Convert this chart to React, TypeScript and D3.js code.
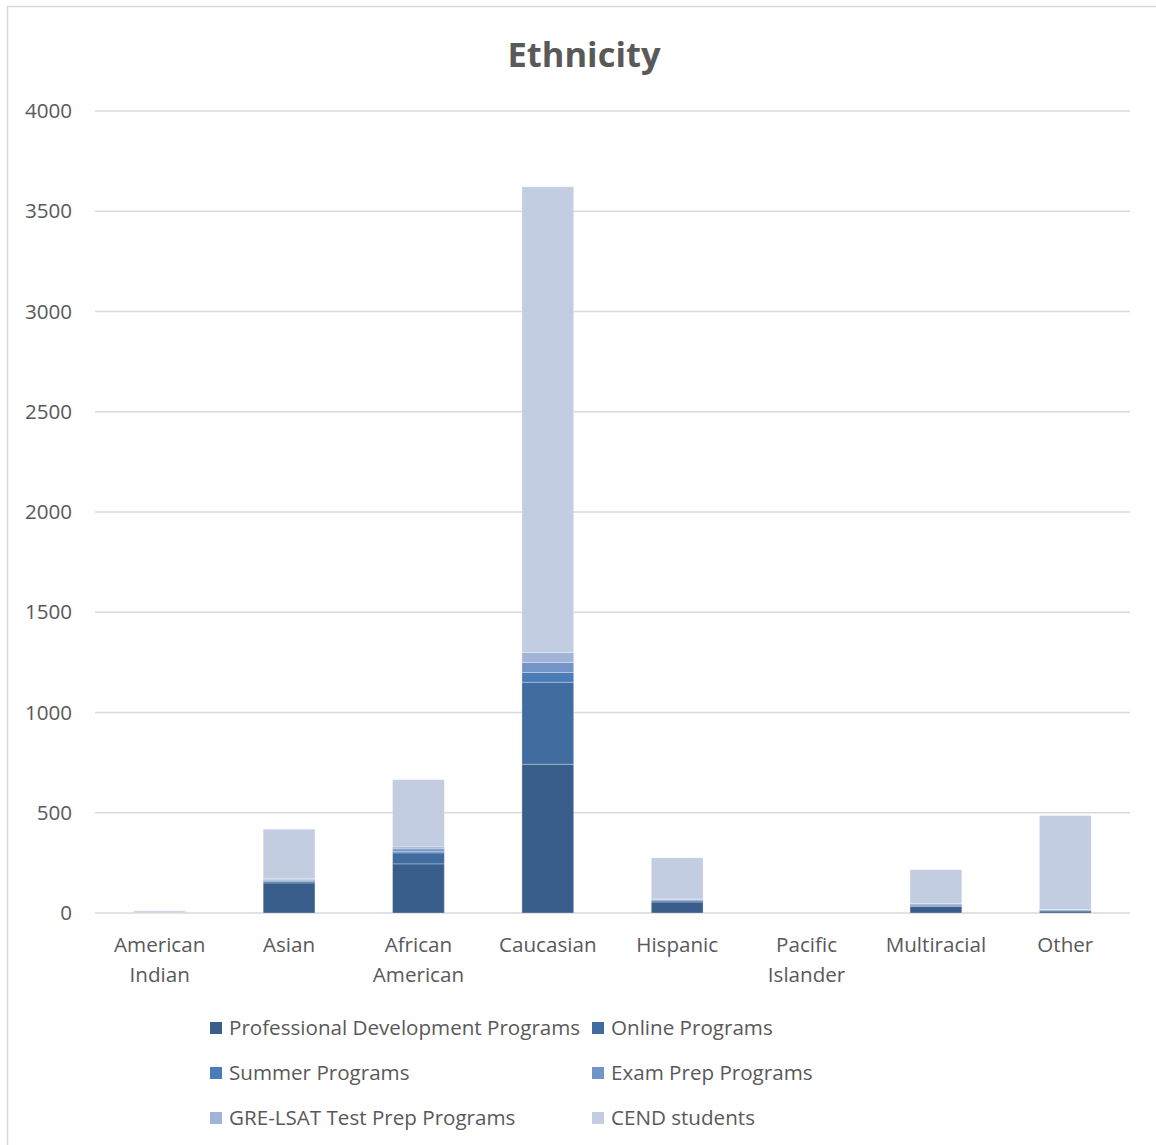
import React from "react";
import * as d3 from "d3";

const categories = [
  "American Indian",
  "Asian",
  "African American",
  "Caucasian",
  "Hispanic",
  "Pacific Islander",
  "Multiracial",
  "Other",
];

const seriesNames = [
  "Professional Development Programs",
  "Online Programs",
  "Summer Programs",
  "Exam Prep Programs",
  "GRE-LSAT Test Prep Programs",
  "CEND students",
];

const professionalDevelopment = [0, 150, 245, 742, 55, 0, 32, 10];
const onlinePrograms = [0, 8, 55, 409, 6, 0, 7, 4];
const summerPrograms = [0, 5, 8, 48, 5, 0, 5, 2];
const examPrep = [2, 5, 12, 50, 2, 0, 2, 1];
const greLsatPrep = [3, 5, 10, 50, 2, 0, 2, 1];
const cendStudents = [6, 245, 335, 2323, 205, 0, 168, 468];

const seriesValues = [
  professionalDevelopment,
  onlinePrograms,
  summerPrograms,
  examPrep,
  greLsatPrep,
  cendStudents,
];

const seriesColors = ["#3a5e8b", "#416c9f", "#4a7cb8", "#7294c6", "#a1b3d7", "#c3cde2"];

const yTicks = [0, 500, 1000, 1500, 2000, 2500, 3000, 3500, 4000];

const FONT = "'Open Sans', 'Noto Sans', sans-serif";
const TEXT = "#595959";
const LABEL_SIZE = 20.6;

export default function App() {
  const width = 1156;
  const height = 1145;
  const plot = { left: 95, right: 1130, top: 111, bottom: 913 };

  const rows = categories.map((c, i) => {
    const r: Record<string, number | string> = { category: c };
    seriesNames.forEach((s, j) => {
      r[s] = seriesValues[j][i];
    });
    return r;
  });

  const stack = d3.stack<Record<string, number | string>>().keys(seriesNames);
  const stacked = stack(rows as any);

  const x = d3
    .scaleBand<string>()
    .domain(categories)
    .range([plot.left, plot.right])
    .paddingInner(0.6)
    .paddingOuter(0.3);
  const y = d3.scaleLinear().domain([0, 4000]).range([plot.bottom, plot.top]);

  const legendItems = [
    { x: 210, y: 1028 },
    { x: 592, y: 1028 },
    { x: 210, y: 1073 },
    { x: 592, y: 1073 },
    { x: 210, y: 1118 },
    { x: 592, y: 1118 },
  ];

  return (
    <svg
      width={width}
      height={height}
      style={{ position: "absolute", left: 0, top: 0, background: "#fff" }}
    >
      <rect x={7.5} y={6.5} width={1160} height={1160} fill="#fff" stroke="#d9d9d9" strokeWidth={1.5} />
      <text
        x={584}
        y={67}
        textAnchor="middle"
        fontFamily={FONT}
        fontWeight="bold"
        fontSize={34.5}
        fill={TEXT}
      >
        Ethnicity
      </text>

      {yTicks.map((t) => (
        <g key={t}>
          <line x1={plot.left} x2={plot.right} y1={y(t)} y2={y(t)} stroke="#d9d9d9" strokeWidth={1.5} />
          <text
            x={72}
            y={y(t)}
            dy="0.35em"
            textAnchor="end"
            fontFamily={FONT}
            fontSize={LABEL_SIZE}
            fill={TEXT}
          >
            {t}
          </text>
        </g>
      ))}

      {stacked.map((layer, si) => (
        <g key={layer.key} fill={seriesColors[si]}>
          {layer.map((d, ci) => {
            const h = y(d[0]) - y(d[1]);
            if (h <= 0) return null;
            return (
              <rect
                key={ci}
                x={x(categories[ci])!}
                y={y(d[1])}
                width={x.bandwidth()}
                height={h}
                stroke="#ffffff"
                strokeOpacity={0.35}
                strokeWidth={0.8}
              />
            );
          })}
        </g>
      ))}

      {categories.map((c) => {
        const words = c.split(" ");
        const cx = x(c)! + x.bandwidth() / 2;
        return (
          <text key={c} textAnchor="middle" fontFamily={FONT} fontSize={LABEL_SIZE} fill={TEXT}>
            {words.map((w, i) => (
              <tspan key={i} x={cx} y={952 + i * 30}>
                {w}
              </tspan>
            ))}
          </text>
        );
      })}

      {seriesNames.map((s, i) => (
        <g key={s}>
          <rect x={legendItems[i].x} y={legendItems[i].y - 6} width={12} height={12} fill={seriesColors[i]} />
          <text
            x={legendItems[i].x + 19}
            y={legendItems[i].y}
            dy="0.35em"
            fontFamily={FONT}
            fontSize={LABEL_SIZE}
            fill={TEXT}
          >
            {s}
          </text>
        </g>
      ))}
    </svg>
  );
}
